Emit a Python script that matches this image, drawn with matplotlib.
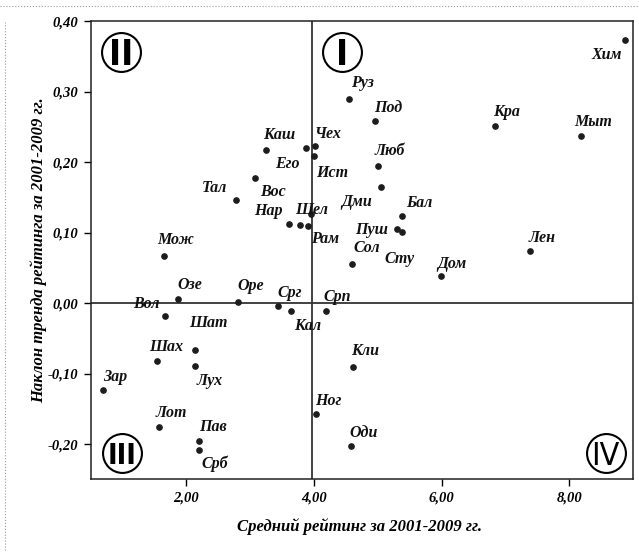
import matplotlib
matplotlib.use("Agg")
import matplotlib.pyplot as plt
from matplotlib.lines import Line2D
from matplotlib.ticker import FuncFormatter

# Средний рейтинг (x) и наклон тренда (y) по районам
names = ["Хим", "Руз", "Под", "Кра", "Мыт", "Чех", "Его", "Ист", "Каш", "Люб",
         "Дми", "Вос", "Тал", "Бал", "Нар", "", "Рам", "Шел", "Пуш", "Сту",
         "Сол", "Дом", "Лен", "Мож", "Озе", "Оре", "Срг", "Кал", "Срп", "Вол",
         "Шат", "Шах", "Лух", "Кли", "Зар", "Ног", "Лот", "Пав", "Срб", "Оди"]
mean_rating = [8.87, 4.55, 4.95, 6.83, 8.18, 4.02, 3.88, 4.00, 3.25, 5.00,
               5.04, 3.07, 2.77, 5.38, 3.61, 3.78, 3.90, 3.95, 5.30, 5.38,
               4.60, 5.99, 7.38, 1.65, 1.87, 2.81, 3.43, 3.64, 4.18, 1.66,
               2.14, 1.54, 2.13, 4.61, 0.69, 4.03, 1.57, 2.19, 2.19, 4.57]
trend_slope = [0.373, 0.289, 0.259, 0.251, 0.237, 0.223, 0.220, 0.209, 0.217, 0.195,
               0.164, 0.178, 0.146, 0.124, 0.112, 0.111, 0.109, 0.126, 0.105, 0.101,
               0.056, 0.039, 0.074, 0.067, 0.006, 0.002, -0.004, -0.011, -0.011, -0.018,
               -0.066, -0.082, -0.090, -0.091, -0.123, -0.157, -0.176, -0.196, -0.209, -0.203]

x_ticks = [2, 4, 6, 8]
y_ticks = [-0.2, -0.1, 0.0, 0.1, 0.2, 0.3, 0.4]
x_split = 3.96
y_split = 0.0

# сдвиг подписей от точек, пиксели
label_offsets = [(-18, -15), (13, 16), (13, 13), (12, 14), (12, 14), (13, 12), (-19, -16),
                 (18, -17), (13, 15), (12, 15), (-24, -15), (18, -14), (-21, 12), (17, 13),
                 (-21, 13), (0, 0), (17, -13), (1, 4), (-25, -1), (-3, -27), (14, 16),
                 (11, 12), (12, 13), (12, 16), (12, 14), (13, 16), (12, 13), (17, -15),
                 (12, 14), (-18, 12), (13, 27), (9, 14), (15, -15), (12, 16), (12, 13),
                 (12, 13), (12, 14), (14, 14), (16, -13), (13, 13)]

serif = dict(family="Liberation Serif", weight="bold", style="italic")

fig = plt.figure(figsize=(6.39, 5.56), dpi=100)
ax = fig.add_axes([0.142, 0.138, 0.849, 0.824])

ax.axvline(x_split, color="#333333", lw=1.3, zorder=1)
ax.axhline(y_split, color="#333333", lw=1.3, zorder=1)

ax.plot(mean_rating, trend_slope, "o", ms=3.8, color="#1c1c1c", zorder=3)
for name, x, y, off in zip(names, mean_rating, trend_slope, label_offsets):
    if name:
        ax.annotate(name, (x, y), xytext=off, textcoords="offset pixels",
                    ha="center", va="center", fontsize=11.5, color="#111111", **serif)

ax.set_xlim(0.5, 9.0)
ax.set_ylim(-0.25, 0.40)
ax.set_xticks(x_ticks)
ax.set_yticks(y_ticks)
comma = FuncFormatter(lambda v, p: f"{v:.2f}".replace(".", ","))
ax.xaxis.set_major_formatter(comma)
ax.yaxis.set_major_formatter(comma)
ax.tick_params(direction="out", length=5, width=1, pad=4, labelsize=10.5)
for lab in ax.get_xticklabels() + ax.get_yticklabels():
    lab.set_fontfamily("Liberation Serif")
    lab.set_fontweight("bold")
    lab.set_fontstyle("italic")
for s in ax.spines.values():
    s.set_linewidth(1.1)
    s.set_color("#222222")

ax.set_xlabel("Средний рейтинг за 2001-2009 гг.", fontsize=12, **serif)
ax.set_ylabel("Наклон тренда рейтинга за 2001-2009 гг.", fontsize=12, **serif)
ax.xaxis.set_label_coords(0.4945, -0.0845)
ax.yaxis.set_label_coords(-0.081, 0.5)

# номера квадрантов в кружках
quadrants = [("II", 0.0553, 0.933, 26, "bold"), ("I", 0.4637, 0.933, 26, "bold"),
             ("III", 0.0571, 0.058, 21, "bold"), ("IV", 0.949, 0.057, 23, "normal")]
for txt, qx, qy, size, weight in quadrants:
    ax.plot([qx], [qy], "o", ms=28, mfc="white", mec="black", mew=1.5,
            transform=ax.transAxes, zorder=4, clip_on=False)
    ax.text(qx, qy, txt, transform=ax.transAxes, ha="center", va="center_baseline",
            fontsize=size, fontweight=weight, family="DejaVu Sans",
            fontstretch="condensed", zorder=5)

# рамка страницы
fig.add_artist(Line2D([0, 1], [0.989, 0.989], transform=fig.transFigure,
                      color="#9a9a9a", lw=0.8, ls=":"))
fig.add_artist(Line2D([0.008, 0.008], [0.01, 0.96], transform=fig.transFigure,
                      color="#9a9a9a", lw=0.8, ls=":"))

fig.savefig("out.png", dpi=100)
